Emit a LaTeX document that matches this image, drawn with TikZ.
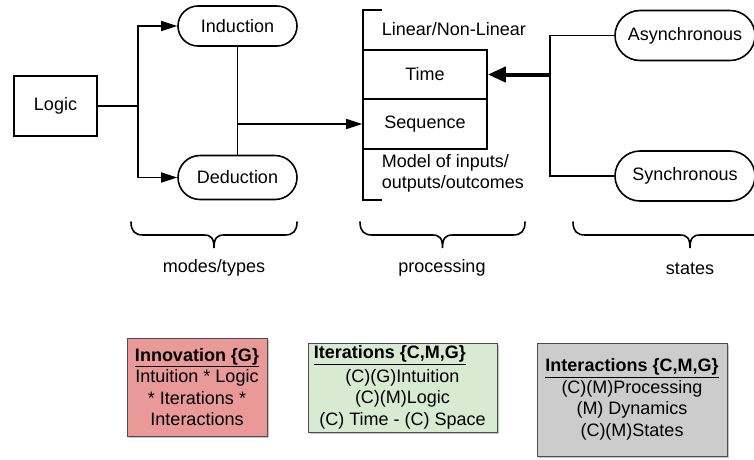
\documentclass[tikz,border=0pt]{standalone}
\usepackage{fontspec}
\setmainfont{Liberation Sans}
\usetikzlibrary{arrows.meta,shadows}
\definecolor{redfill}{HTML}{EA9999}
\definecolor{greenfill}{HTML}{D9EAD3}
\definecolor{grayfill}{HTML}{CCCCCC}
\newcommand{\dbrace}[3]{%
  \draw[line width=1.6pt, line cap=round]
    (#1,#3) .. controls (#1,#3+9) and (#1+4,#3+13) .. (#1+12,#3+13)
    -- ({(#1+#2)/2-10},#3+13)
    .. controls ({(#1+#2)/2-3},#3+13) and ({(#1+#2)/2},#3+16) .. ({(#1+#2)/2},#3+26)
    .. controls ({(#1+#2)/2},#3+16) and ({(#1+#2)/2+3},#3+13) .. ({(#1+#2)/2+10},#3+13)
    -- (#2-12,#3+13)
    .. controls (#2-4,#3+13) and (#2,#3+9) .. (#2,#3);}
\begin{document}
\begin{tikzpicture}[x=1pt,y=-1pt,
  font=\fontsize{18}{21.5}\selectfont,
  line width=1.6pt,
  box/.style={draw, rectangle, inner sep=0pt, align=center},
  arr/.style={-{Triangle[length=16pt,width=10pt]}},
  bigarr/.style={line width=4pt,-{Triangle[length=18pt,width=15pt]}},
  note/.style={draw=black!70, line width=1pt, rectangle, inner sep=0pt, align=center,
    drop shadow={shadow xshift=1.5pt, shadow yshift=-1.5pt, opacity=0.45}},
  lbl/.style={inner sep=0pt}]
\useasboundingbox (0,0) rectangle (754,459);
\clip (0,0) rectangle (754,459);

% left group
\node[box, minimum width=83pt, minimum height=60pt] (Logic) at (55.5,106) {Logic};
\node[box, minimum width=119pt, minimum height=40pt, rounded corners=20pt] (Induction) at (237.5,26) {Induction};
\node[box, minimum width=119pt, minimum height=44pt, rounded corners=22pt] (Deduction) at (237.5,177.5) {Deduction};

% processing group
\node[box, minimum width=124pt, minimum height=49pt] (Time) at (425,74.5) {Time};
\node[box, minimum width=124pt, minimum height=50pt] (Sequence) at (425,124) {Sequence};
\coordinate (btop) at (382,10);
\coordinate (bbot) at (382,200);
\draw (btop) -- (363,10) -- (363,200) -- (bbot);
\node[lbl, anchor=west] (Linear) at (381,29) {Linear/Non-Linear};
\node[lbl, anchor=west, align=left] (Model) at (381,173.5) {Model of inputs/\\outputs/outcomes};

% states group
\node[box, minimum width=140pt, minimum height=50pt, rounded corners=25pt] (Async) at (685,35.5) {Asynchronous};
\node[box, minimum width=140pt, minimum height=50pt, rounded corners=25pt] (Sync) at (685,176) {Synchronous};

% connectors
\draw (Logic.east) -- ++(40,0) coordinate (ls);
\draw[arr] (ls) |- (Induction.west);
\draw[arr] (ls) |- (Deduction.west);
\draw (Induction.south) -- (Deduction.north);
\coordinate (dm) at (Induction.south |- Sequence.west);
\draw[arr] (dm) -- (Sequence.west);
\coordinate (sj) at (550,74.5);
\draw (Async.west) -| (sj);
\draw (sj) |- (Sync.west);
\draw[bigarr] (sj) -- (Time.east);

% braces
\dbrace{131}{297}{222}
\dbrace{360}{525}{222}
\dbrace{573}{807}{222}
\node[lbl] (modes) at (214,268) {modes/types};
\node[lbl] (proc) at (442,268) {processing};
\node[lbl] (states) at (690,269) {states};

% bottom notes
\node[note, fill=redfill, minimum width=140pt, minimum height=98pt] (Innov) at (197,387)
  {\underline{\textbf{Innovation \{G\}}}\\Intuition * Logic\\* Iterations *\\Interactions};
\node[note, fill=greenfill, minimum width=189pt, minimum height=89pt] (Iter) at (402.5,387.5)
  {\strut\\(C)(G)Intuition\\(C)(M)Logic\\(C) Time - (C) Space};
\node[lbl, anchor=west] (IterHead) at (313,355) {\underline{\textbf{Iterations \{C,M,G\}}}};
\node[note, fill=grayfill, minimum width=190pt, minimum height=113pt] (Inter) at (632,399.5)
  {\underline{\textbf{Interactions \{C,M,G\}}}\\(C)(M)Processing\\(M) Dynamics\\(C)(M)States};
\end{tikzpicture}
\end{document}
